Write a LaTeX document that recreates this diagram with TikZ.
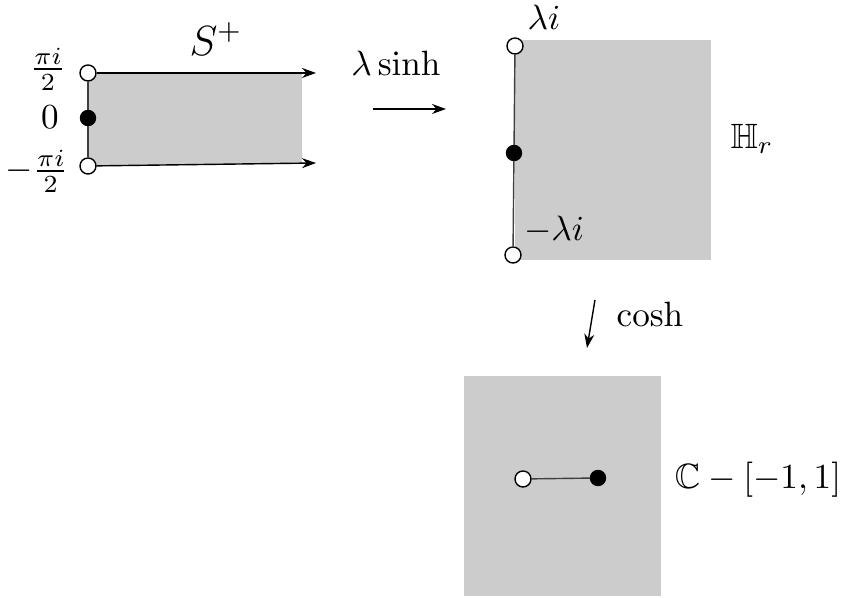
\documentclass[tikz,border=0pt]{standalone}
\usepackage{amssymb}
\usetikzlibrary{arrows.meta}

\begin{document}
\begin{tikzpicture}[
    x=0.01cm, y=-0.01cm,
    region/.style={fill=black!20},
    opendot/.style={circle, draw, fill=white, inner sep=0pt, minimum size=1.6mm},
    fulldot/.style={circle, draw, fill=black, inner sep=0pt, minimum size=1.5mm},
    lbl/.style={inner sep=1pt},
    edge/.style={thin, black!75},
    arrow/.style={-{Stealth[length=1.4mm, width=1mm]}, thin}
]
\useasboundingbox (0,0) rectangle (841,598);

% shaded regions
\fill[region] (88,73) -- (302,73) -- (302,163) -- (88,166) -- cycle;
\fill[region] (515,40) rectangle (711,260);
\fill[region] (464,376) rectangle (661,596);

% strip S^+
\node[opendot] (stop) at (88,73) {};
\node[fulldot] (szero) at (88,118) {};
\node[opendot] (sbot) at (88,166) {};
\coordinate (stopend) at (316,73);
\coordinate (sbotend) at (316,163);
\draw[edge] (stop) -- (szero) -- (sbot);
\draw[arrow] (stop) -- (stopend);
\draw[arrow] (sbot) -- (sbotend);
\node[lbl] (lpi) at (48,69) {$\frac{\pi i}{2}$};
\node[lbl] (lzero) at (50,117) {$0$};
\node[lbl] (lmpi) at (37,171) {$-\frac{\pi i}{2}$};
\node[lbl, font=\fontsize{11.5}{13}\selectfont] (lstrip) at (216,39) {$S^{+}$};

% map lambda sinh
\node[lbl] (lsinh) at (396,63) {$\lambda\sinh$};
\coordinate (sinhfrom) at (373,109);
\coordinate (sinhto) at (446,109);
\draw[arrow] (sinhfrom) -- (sinhto);

% half plane H_r
\node[opendot] (htop) at (515,46) {};
\node[fulldot] (hzero) at (514,153) {};
\node[opendot] (hbot) at (513,255) {};
\draw[edge] (htop) -- (hzero) -- (hbot);
\node[lbl] (lli) at (544,17) {$\lambda i$};
\node[lbl] (lmli) at (554,230) {$-\lambda i$};
\node[lbl] (lhr) at (752,139) {$\mathbb{H}_r$};

% map cosh
\coordinate (coshfrom) at (595,300);
\coordinate (coshto) at (587,348);
\draw[arrow] (coshfrom) -- (coshto);
\node[lbl] (lcosh) at (650,314) {$\cosh$};

% slit plane
\node[opendot] (cleft) at (523,479) {};
\node[fulldot] (cright) at (598,478) {};
\draw[edge] (cleft) -- (cright);
\node[lbl] (lslit) at (758,480) {$\mathbb{C}-[-1,1]$};
\end{tikzpicture}
\end{document}
